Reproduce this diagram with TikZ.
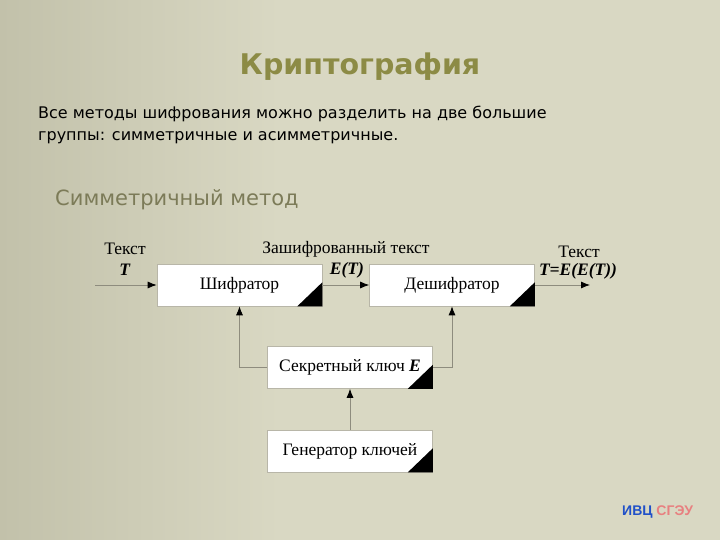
\documentclass[tikz,border=0pt]{standalone}
\usepackage{fontspec}
\setmainfont{Liberation Serif}
\newfontfamily\tahoma{DejaVu Sans}
\newfontfamily\arialf{Liberation Sans}
\usetikzlibrary{arrows.meta}
\definecolor{bgc}{HTML}{D9D8C3}
\definecolor{bgdark}{HTML}{C2C1AA}
\definecolor{titlec}{HTML}{8C8B45}
\definecolor{subc}{HTML}{7C7B58}
\definecolor{linec}{HTML}{8E8C7E}
\definecolor{boxline}{HTML}{B8B6A8}
\definecolor{ivcblue}{HTML}{2050C8}
\definecolor{sgeured}{HTML}{E88080}
\tikzset{
  blk/.style={draw=boxline, line width=0.6pt, fill=white, minimum height=42pt, minimum width=165pt, inner sep=0pt, font=\fontsize{17.5}{20}\selectfont},
  conn/.style={draw=linec, line width=0.8pt, -{Latex[length=9pt,width=7pt,black]}},
  lbl/.style={font=\fontsize{17.5}{20}\selectfont, inner sep=0pt, align=center},
}
\newcommand{\cornertri}[1]{\fill[black] (#1.south east) -- ++(0,-24) -- ++(-25,24) -- cycle;}
\begin{document}
\begin{tikzpicture}[x=1pt,y=-1pt]
\useasboundingbox (0,0) rectangle (720,540);
\fill[bgc] (0,0) rectangle (720,540);
\shade[left color=bgdark, right color=bgc] (0,0) rectangle (280,540);
% title and text
\node[font=\tahoma\bfseries\fontsize{28.5}{32}\selectfont, text=titlec, inner sep=0pt] (title) at (360,67) {Криптография};
\node[font=\tahoma\fontsize{16}{22}\selectfont, anchor=north west, align=left, inner sep=0pt] (intro) at (38,106)
  {Все методы шифрования можно разделить на две большие\\группы: симметричные и асимметричные.};
\node[font=\tahoma\fontsize{21}{24}\selectfont, text=subc, anchor=west, inner sep=0pt] (sub) at (55,200) {Симметричный метод};
% blocks
\node[blk] (enc) at (239.5,285) {Шифратор};
\node[blk] (dec) at (452,285) {Дешифратор};
\node[blk] (key) at (350,367.5) {Секретный ключ \textbf{\textit{E}}};
\node[blk] (gen) at (350,451) {Генератор ключей};
\cornertri{enc}\cornertri{dec}\cornertri{key}\cornertri{gen}
% labels
\node[lbl] (t1) at (125,249) {Текст};
\node[lbl] (t1b) at (125,270) {\textbf{\textit{T}}};
\node[lbl] (t2) at (346,249) {Зашифрованный текст};
\node[lbl] (t2b) at (347,270) {\textbf{\textit{E(T)}}};
\node[lbl] (t3) at (579,252) {Текст};
\node[lbl] (t3b) at (578,271) {\textbf{\textit{T=E(E(T))}}};
% connectors
\coordinate (in) at (95,285);
\coordinate (out) at (590,285);
\draw[conn] (in) -- (enc.west);
\draw[conn] (enc.east) -- (dec.west);
\draw[conn] (dec.east) -- (out);
\draw[conn] (key.west) -| (enc.south);
\draw[conn] (key.east) -| (dec.south);
\draw[conn] (gen.north) -- (key.south);
% footer
\node[font=\arialf\bfseries\fontsize{14}{16}\selectfont, anchor=west, inner sep=0pt] (ivc) at (622,512)
  {\textcolor{ivcblue}{ИВЦ} \textcolor{sgeured}{СГЭУ}};
\end{tikzpicture}
\end{document}
